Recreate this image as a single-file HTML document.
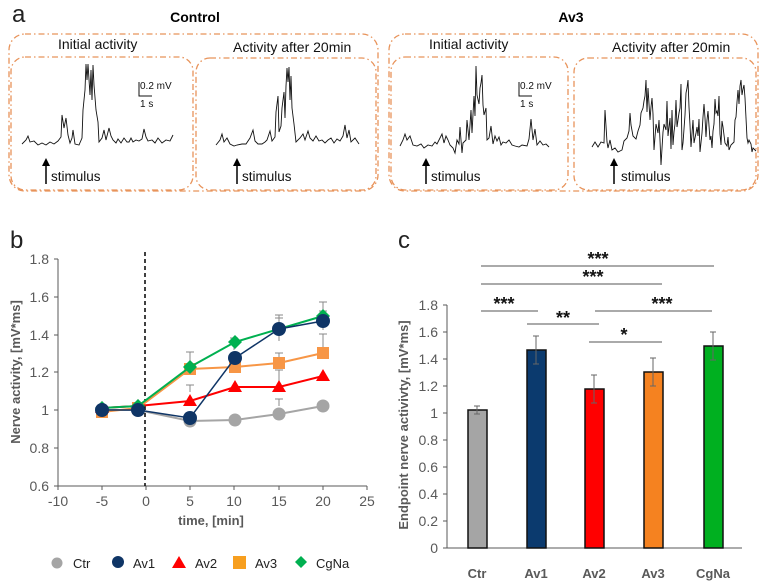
<!DOCTYPE html>
<html><head><meta charset="utf-8"><style>
body{margin:0;background:#fff;}
svg{display:block;font-family:"Liberation Sans",Arial,sans-serif;}
</style></head><body>
<svg width="762" height="582" viewBox="0 0 762 582" xmlns="http://www.w3.org/2000/svg">
<!-- Panel a -->
<text x="12" y="22" font-size="24" fill="#222">a</text>
<text x="195" y="22" font-size="14" font-weight="bold" text-anchor="middle">Control</text>
<text x="571" y="22" font-size="14" font-weight="bold" text-anchor="middle">Av3</text>
<g fill="none" stroke="#e8935a" stroke-width="1.3" stroke-dasharray="6,3,1.5,3">
<rect x="9" y="34" width="369" height="157" rx="16"/>
<rect x="11" y="57" width="182" height="133" rx="14"/>
<rect x="196" y="58" width="180" height="132" rx="14"/>
<rect x="389" y="34" width="369" height="157" rx="16"/>
<rect x="391" y="57" width="177" height="133" rx="14"/>
<rect x="574" y="58" width="182" height="132" rx="14"/>
</g>
<g font-size="14" fill="#111">
<text x="58" y="49">Initial activity</text>
<text x="233" y="52">Activity after 20min</text>
<text x="429" y="49">Initial activity</text>
<text x="612" y="52">Activity after 20min</text>
</g>
<g font-size="13.5" fill="#111">
<text x="51" y="181">stimulus</text>
<text x="242" y="181">stimulus</text>
<text x="431" y="181">stimulus</text>
<text x="621" y="181">stimulus</text>
</g>
<g font-size="10" fill="#111">
<text x="140" y="89">0.2 mV</text><text x="140" y="107">1 s</text>
<text x="520" y="89">0.2 mV</text><text x="520" y="107">1 s</text>
</g>
<g stroke="#111" stroke-width="1" fill="none">
<path d="M139 82V96H152"/><path d="M519 82V96H532"/>
</g>
<g stroke="#000" stroke-width="1.5">
<line x1="46" y1="184" x2="46" y2="164"/><line x1="237" y1="184" x2="237" y2="164"/>
<line x1="426" y1="184" x2="426" y2="164"/><line x1="614" y1="184" x2="614" y2="164"/>
</g>
<g fill="#000">
<path d="M42 166L46 158L50 166Z"/><path d="M233 166L237 158L241 166Z"/>
<path d="M422 166L426 158L430 166Z"/><path d="M610 166L614 158L618 166Z"/>
</g>
<g stroke="#111" stroke-width="0.9" fill="none">
<polyline points="22,144 26,140 28,136 30,142 34,141 38,145 42,143 46,145 50,142 54,144 58,141 61,137 62,115 64,128 66,118 68,135 70,143 72,138 73,130 75,144 79,145 82,138 83,110 85,90 86,64 87,80 88,64 90,95 91,70 92,100 93,65 94,85 96,110 98,122 99,142 102,138 104,130 106,140 109,128 111,136 113,140 116,143 118,139 121,143 124,138 127,142 129,142 131,138 133,142 136,140 139,141 142,139 144,129 146,137 148,141 152,140 155,143 158,138 162,143 166,140 170,141 173,135"/>
<polyline points="216,145 220,140 222,134 224,142 227,138 230,144 234,146 237,145 242,144 246,144 250,138 253,130 255,141 258,144 262,144 265,142 267,140 270,131 272,141 275,137 276,112 278,96 279,132 281,126 282,108 284,92 285,118 286,86 287,68 288,82 289,67 290,100 291,76 292,108 294,124 296,142 300,138 303,134 305,140 308,131 310,138 313,141 316,136 319,141 322,140 325,143 328,140 331,138 334,143 337,139 340,141 343,136 345,125 347,138 349,130 351,142 355,138 359,144"/>
<polyline points="400,146 403,140 405,134 407,140 410,136 413,145 417,146 421,144 424,148 428,145 432,146 435,142 437,144 440,138 442,134 444,143 446,136 448,140 450,145 453,148 455,153 457,140 459,144 460,127 462,153 463,143 466,140 467,120 469,140 471,110 472,133 474,96 475,116 476,66 477,95 479,104 480,88 481,83 482,75 483,105 484,115 486,108 487,140 489,138 491,126 493,144 495,136 497,141 499,137 501,145 503,142 506,143 509,140 512,145 515,146 519,147 522,145 527,146 529,139 531,119 533,140 535,129 537,145 540,141 543,145 546,144 549,147"/>
<polyline points="592,147 595,142 598,147 601,142 604,143 605,110 607,142 608,148 610,140 612,150 615,148 618,152 620,151 622,150 624,141 627,138 629,131 630,113 631,125 633,136 636,139 638,131 640,125 641,113 643,108 644,101 645,96 646,80 647,112 648,88 650,120 651,107 652,98 653,114 654,150 656,124 658,133 659,120 660,140 661,165 663,132 664,124 666,130 667,101 668,136 670,118 671,149 672,110 673,145 674,132 675,124 676,100 677,127 679,113 680,108 681,84 682,150 683,143 685,115 686,93 687,88 688,80 689,107 690,125 691,147 693,120 694,143 696,133 697,127 698,136 699,119 700,152 702,133 703,117 704,104 705,118 706,137 707,120 708,111 710,140 711,136 712,148 713,131 714,124 715,99 716,113 717,111 718,116 719,96 720,134 721,145 722,121 723,127 725,143 727,146 728,137 729,150 731,145 734,142 735,120 736,117 737,102 738,90 739,104 740,86 741,80 742,95 743,89 744,85 745,98 747,138 748,143 749,140 751,144 752,152 753,148 756,151"/>
</g>

<!-- Panel b -->
<text x="10" y="248" font-size="24" fill="#222">b</text>
<g stroke="#595959" stroke-width="1" fill="none">
<line x1="58" y1="259" x2="58" y2="486"/>
<line x1="58" y1="486" x2="367" y2="486"/>
<path d="M54 259H58M54 297H58M54 335H58M54 372H58M54 410H58M54 448H58M54 486H58"/>
<path d="M58 486V490M102 486V490M146 486V490M190 486V490M234 486V490M279 486V490M323 486V490M367 486V490"/>
</g>
<g font-size="14" fill="#595959" text-anchor="end">
<text x="49" y="264">1.8</text><text x="49" y="302">1.6</text><text x="49" y="340">1.4</text>
<text x="49" y="377">1.2</text><text x="49" y="415">1</text><text x="49" y="453">0.8</text><text x="49" y="491">0.6</text>
</g>
<g font-size="14" fill="#595959" text-anchor="middle">
<text x="58" y="506">-10</text><text x="102" y="506">-5</text><text x="146" y="506">0</text><text x="190" y="506">5</text>
<text x="234" y="506">10</text><text x="279" y="506">15</text><text x="323" y="506">20</text><text x="367" y="506">25</text>
</g>
<text x="211" y="525" font-size="13" font-weight="bold" fill="#595959" text-anchor="middle">time, [min]</text>
<text transform="translate(20,372) rotate(-90)" font-size="13" font-weight="bold" fill="#595959" text-anchor="middle">Nerve activity, [mV*ms]</text>
<line x1="145" y1="252" x2="145" y2="486" stroke="#000" stroke-width="1.5" stroke-dasharray="4,3"/>
<g stroke="#888" stroke-width="1">
<path d="M279 406V399M275 399H283"/>
<path d="M323 330V311M319 311H327"/>
<path d="M279 341V318M275 318H283"/>
<path d="M190 375V352M186 352H194"/>
<path d="M234 350V338M230 338H238"/>
<path d="M279 339V315M275 315H283"/>
<path d="M323 324V302M319 302H327"/>
<path d="M279 362V353M275 353H283"/>
<path d="M323 352V334M319 334H327"/>
<path d="M190 392V385M186 385H194"/>
<path d="M279 386V370M275 370H283"/>
</g>
<polyline points="102,410 138,410 190,421 235,420 279,414 323,406" stroke="#a5a5a5" stroke-width="2" fill="none"/>
<g fill="#a5a5a5"><circle cx="102" cy="410" r="6.5"/><circle cx="138" cy="410" r="6.5"/><circle cx="190" cy="421" r="6.5"/><circle cx="235" cy="420" r="6.5"/><circle cx="279" cy="414" r="6.5"/><circle cx="323" cy="406" r="6.5"/></g>
<polyline points="102,412 138,408 190,369 235,367 279,363 323,353" stroke="#f79646" stroke-width="2" fill="none"/>
<g fill="#f79646"><rect x="96" y="406" width="12" height="12"/><rect x="132" y="402" width="12" height="12"/><rect x="184" y="363" width="12" height="12"/><rect x="229" y="361" width="12" height="12"/><rect x="273" y="357" width="12" height="12"/><rect x="317" y="347" width="12" height="12"/></g>
<polyline points="102,408 138,406 190,401 235,387 279,387 323,376" stroke="#ff0000" stroke-width="2" fill="none"/>
<g fill="#ff0000"><path d="M102,401 L109,413 L95,413Z"/><path d="M138,399 L145,411 L131,411Z"/><path d="M190,394 L197,406 L183,406Z"/><path d="M235,380 L242,392 L228,392Z"/><path d="M279,380 L286,392 L272,392Z"/><path d="M323,369 L330,381 L316,381Z"/></g>
<polyline points="102,408 138,406 190,367 235,342 279,329 323,316" stroke="#00b050" stroke-width="2" fill="none"/>
<g fill="#00b050"><path d="M102,401l7,7-7,7-7-7z"/><path d="M138,399l7,7-7,7-7-7z"/><path d="M190,360l7,7-7,7-7-7z"/><path d="M235,335l7,7-7,7-7-7z"/><path d="M279,322l7,7-7,7-7-7z"/><path d="M323,309l7,7-7,7-7-7z"/></g>
<polyline points="102,410 138,410 190,418 235,358 279,329 323,321" stroke="#0f3566" stroke-width="1.5" fill="none"/>
<g fill="#0f3566"><circle cx="102" cy="410" r="7"/><circle cx="138" cy="410" r="7"/><circle cx="190" cy="418" r="7"/><circle cx="235" cy="358" r="7"/><circle cx="279" cy="329" r="7"/><circle cx="323" cy="321" r="7"/></g>
<circle cx="57" cy="563" r="5.5" fill="#a5a5a5"/>
<circle cx="118" cy="562" r="6" fill="#0f3566"/>
<path d="M179,556 L186,568 L172,568Z" fill="#ff0000"/>
<rect x="233" y="556" width="13" height="13" fill="#f79f1f"/>
<path d="M301,556l6,6-6,6-6-6z" fill="#00b050"/>
<g font-size="13" fill="#222"><text x="73" y="568">Ctr</text><text x="133" y="568">Av1</text><text x="195" y="568">Av2</text><text x="255" y="568">Av3</text><text x="316" y="568">CgNa</text></g>

<!-- Panel c -->
<text x="398" y="248" font-size="24" fill="#222">c</text>
<g stroke="#595959" stroke-width="1" fill="none">
<line x1="447" y1="305" x2="447" y2="548"/>
<line x1="447" y1="548" x2="742" y2="548"/>
<path d="M443 305H447M443 332H447M443 359H447M443 386H447M443 413H447M443 440H447M443 467H447M443 494H447M443 521H447M443 548H447"/>
</g>
<g font-size="14" fill="#595959" text-anchor="end">
<text x="438" y="310">1.8</text><text x="438" y="337">1.6</text><text x="438" y="364">1.4</text><text x="438" y="391">1.2</text>
<text x="438" y="418">1</text><text x="438" y="445">0.8</text><text x="438" y="472">0.6</text><text x="438" y="499">0.4</text>
<text x="438" y="526">0.2</text><text x="438" y="553">0</text>
</g>
<text transform="translate(408,425) rotate(-90)" font-size="13" font-weight="bold" fill="#595959" text-anchor="middle">Endpoint nerve activivty, [mV*ms]</text>
<g stroke="#111" stroke-width="1.5">
<rect x="468" y="410" width="19" height="138" fill="#a5a5a5"/>
<rect x="527" y="350" width="19" height="198" fill="#0b3a6e"/>
<rect x="585" y="389" width="19" height="159" fill="#ff0000"/>
<rect x="644" y="372" width="19" height="176" fill="#f58220"/>
<rect x="704" y="346" width="19" height="202" fill="#00b020"/>
</g>
<g stroke="#666" stroke-width="1">
<path d="M477 406V414M474 406H480M474 414H480"/>
<path d="M536 336V364M533 336H539M533 364H539"/>
<path d="M594 375V403M591 375H597M591 403H597"/>
<path d="M653 358V386M650 358H656M650 386H656"/>
<path d="M713 332V360M710 332H716M710 360H716"/>
</g>
<g font-size="13" font-weight="bold" fill="#595959" text-anchor="middle">
<text x="477" y="578">Ctr</text><text x="536" y="578">Av1</text><text x="594" y="578">Av2</text><text x="653" y="578">Av3</text><text x="713" y="578">CgNa</text>
</g>
<g stroke="#555" stroke-width="1">
<line x1="481" y1="266" x2="714" y2="266"/>
<line x1="481" y1="284" x2="662" y2="284"/>
<line x1="481" y1="311" x2="538" y2="311"/>
<line x1="595" y1="311" x2="712" y2="311"/>
<line x1="527" y1="324" x2="599" y2="324"/>
<line x1="589" y1="342" x2="662" y2="342"/>
</g>
<g font-size="18" font-weight="bold" fill="#111" text-anchor="middle">
<text x="598" y="265">***</text>
<text x="593" y="283">***</text>
<text x="504" y="310">***</text>
<text x="662" y="310">***</text>
<text x="563" y="324">**</text>
<text x="624" y="341">*</text>
</g>
</svg>
</body></html>
